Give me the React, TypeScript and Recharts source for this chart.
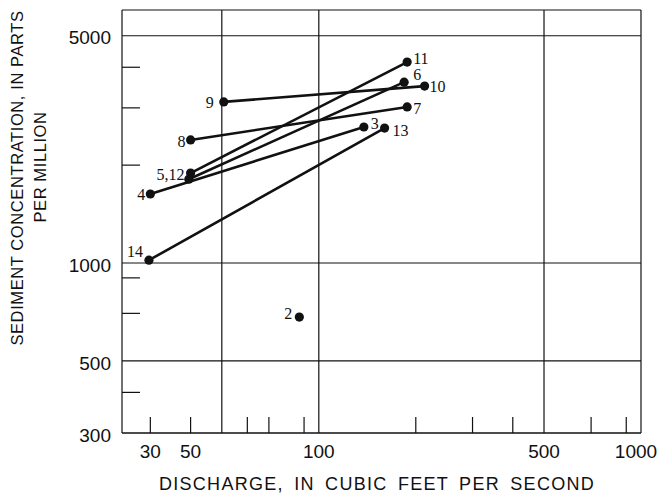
import React from 'react'
import { ReferenceLine, Scatter, ScatterChart, XAxis, YAxis } from 'recharts'

// Each run is a pair of points joined by a line: start (low discharge) -> end (high discharge).
const startLabels = ['9', '8', '5,12', '', '4', '14']
const startDischarge = [50.7, 40, 40, 39.5, 30, 29.7]
const startConcentration = [3130, 2390, 1890, 1810, 1630, 1020]

const endLabels = ['10', '7', '11', '6', '3', '13']
const endDischarge = [213, 188, 188, 184, 138, 160]
const endConcentration = [3500, 3020, 4150, 3600, 2620, 2600]

// lone observation, no pair
const singleLabels = ['2']
const singleDischarge = [87]
const singleConcentration = [682]

const xTicks = [30, 40, 100, 500, 1000]
const xTickLabels = ['30', '50', '100', '500', '1000']
const xMinorTicks = [30, 40, 60, 70, 80, 90, 200, 300, 400, 600, 700, 800, 900]
const xGrid = [50, 100, 500]

const yTicks = [300, 500, 1000, 5000]
const yMinorTicks = [400, 600, 700, 800, 900, 2000, 3000, 4000]
const yGrid = [500, 1000, 5000]

type Pt = { q: number; c: number; label: string }

const pairs: Pt[][] = startLabels.map((_, i) => [
  { q: startDischarge[i], c: startConcentration[i], label: startLabels[i] },
  { q: endDischarge[i], c: endConcentration[i], label: endLabels[i] },
])
const singles: Pt[] = singleLabels.map((label, i) => ({
  q: singleDischarge[i],
  c: singleConcentration[i],
  label,
}))

// where each point number sits relative to its dot
const placement: Record<string, [number, number, 'start' | 'end']> = {
  '9': [-10, 6, 'end'],
  '8': [-5, 7, 'end'],
  '5,12': [-6, 7, 'end'],
  '4': [-5, 6, 'end'],
  '14': [-6, -3, 'end'],
  '2': [-7, 2, 'end'],
  '11': [6, 2, 'start'],
  '6': [9, -2, 'start'],
  '10': [5, 6, 'start'],
  '7': [6, 7, 'start'],
  '3': [7, 2, 'start'],
  '13': [8, 8, 'start'],
}

const INK = '#111'
const SANS = '"Liberation Sans", Arial, Helvetica, sans-serif'

const NoLabel = () => <g />

function XTick(props: any) {
  const { x, y, payload } = props
  const i = xTicks.indexOf(payload.value)
  const text = xTickLabels[i] ?? String(payload.value)
  // the last label is pulled in so it stays inside the frame
  const shift = payload.value === 1000 ? -5 : 0
  return (
    <text x={x + shift} y={y} dy="0.71em" textAnchor="middle" fontSize={19} fontFamily={SANS} fill={INK}>
      {text}
    </text>
  )
}

function Dot(props: any) {
  const { cx, cy, payload } = props
  if (cx == null || cy == null) return null
  const label: string = payload?.label ?? ''
  const pl = placement[label]
  return (
    <g>
      <circle cx={cx} cy={cy} r={4.6} fill={INK} />
      {label && pl ? (
        <text
          x={cx + pl[0]}
          y={cy + pl[1]}
          textAnchor={pl[2]}
          fontSize={16}
          fontFamily='"Liberation Serif", "DejaVu Serif", serif'
          fill={INK}
        >
          {label}
        </text>
      ) : null}
    </g>
  )
}

function YTitle() {
  return (
    <g fontFamily={SANS} fontSize={16.5} fill={INK} letterSpacing={0.6}>
      <text x={17} y={178} transform="rotate(-90, 17, 178)" textAnchor="middle" dominantBaseline="central">
        SEDIMENT CONCENTRATION, IN PARTS
      </text>
      <text x={40} y={167} transform="rotate(-90, 40, 167)" textAnchor="middle" dominantBaseline="central">
        PER MILLION
      </text>
    </g>
  )
}

function XTitle() {
  return (
    <text
      x={377}
      y={490}
      textAnchor="middle"
      fontFamily={SANS}
      fontSize={18}
      letterSpacing={1.3}
      wordSpacing={4}
      fill={INK}
    >
      DISCHARGE, IN CUBIC FEET PER SECOND
    </text>
  )
}

export default function App() {
  return (
    <div style={{ position: 'absolute', left: 0, top: 0, width: 660, height: 495, background: '#fff' }}>
      <ScatterChart width={660} height={495} margin={{ top: 10, right: 19, bottom: 0, left: 0 }}>
        <XAxis
          xAxisId="x"
          dataKey="q"
          type="number"
          scale="log"
          domain={[24.5, 1000]}
          allowDataOverflow
          ticks={xTicks}
          height={62}
          tickLine={false}
          tickSize={6}
          tickMargin={6}
          axisLine={{ stroke: INK, strokeWidth: 1.5 }}
          tick={<XTick />}
          label={{ content: () => <XTitle /> }}
        />
        <XAxis
          xAxisId="minor"
          dataKey="q"
          type="number"
          scale="log"
          domain={[24.5, 1000]}
          allowDataOverflow
          ticks={xMinorTicks}
          mirror
          height={20}
          tick={NoLabel}
          tickSize={16}
          axisLine={false}
          tickLine={{ stroke: INK, strokeWidth: 1.2 }}
        />
        <YAxis
          yAxisId="y"
          dataKey="c"
          type="number"
          scale="log"
          domain={[300, 6000]}
          allowDataOverflow
          ticks={yTicks}
          width={122}
          tickLine={false}
          tickSize={5}
          tickMargin={6}
          axisLine={{ stroke: INK, strokeWidth: 1.2 }}
          tick={{ fill: INK, fontSize: 19, fontFamily: SANS, dy: 2 }}
          label={{ content: () => <YTitle /> }}
        />
        <YAxis
          yAxisId="minor"
          dataKey="c"
          type="number"
          scale="log"
          domain={[300, 6000]}
          allowDataOverflow
          ticks={yMinorTicks}
          mirror
          width={20}
          tick={NoLabel}
          tickSize={18}
          axisLine={false}
          tickLine={{ stroke: INK, strokeWidth: 1.2 }}
        />

        {xGrid.map((v) => (
          <ReferenceLine key={`gx${v}`} xAxisId="x" yAxisId="y" x={v} stroke={INK} strokeWidth={1.2} />
        ))}
        {yGrid.map((v) => (
          <ReferenceLine key={`gy${v}`} xAxisId="x" yAxisId="y" y={v} stroke={INK} strokeWidth={1.2} />
        ))}
        <ReferenceLine xAxisId="x" yAxisId="y" x={1000} stroke={INK} strokeWidth={1.2} />
        <ReferenceLine xAxisId="x" yAxisId="y" y={6000} stroke={INK} strokeWidth={1.2} />

        {pairs.map((pair, i) => (
          <Scatter
            key={`pair${i}`}
            xAxisId="x"
            yAxisId="y"
            data={pair}
            fill={INK}
            line={{ stroke: INK, strokeWidth: 2.6 }}
            shape={<Dot />}
            isAnimationActive={false}
          />
        ))}
        <Scatter
          xAxisId="x"
          yAxisId="y"
          data={singles}
          fill={INK}
          shape={<Dot />}
          isAnimationActive={false}
        />
      </ScatterChart>
    </div>
  )
}
